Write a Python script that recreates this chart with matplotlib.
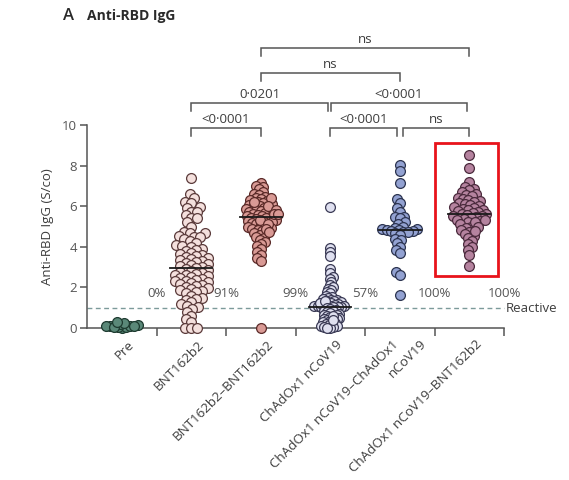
import numpy as np
import matplotlib
matplotlib.use("Agg")
import matplotlib.pyplot as plt
from matplotlib.patches import Rectangle

plt.rcParams["font.family"] = ["Open Sans", "DejaVu Sans"]

# ---- data -------------------------------------------------------------
groups = ["Pre", "BNT162b2", "BNT162b2–BNT162b2", "ChAdOx1 nCoV19",
          "ChAdOx1 nCoV19–ChAdOx1\nnCoV19", "ChAdOx1 nCoV19–BNT162b2"]

pre = [0.02, 0.05, 0.08, 0.10, 0.12, 0.15, 0.04, 0.20, 0.25, 0.10, 0.07, 0.30]

bnt = [7.4, 6.6, 6.4, 6.2, 6.15, 5.95, 5.9, 5.7, 5.7, 5.55, 5.4, 5.4, 5.2, 5.0,
       4.75, 4.7, 4.7, 4.55, 4.5, 4.5, 4.4, 4.3, 4.2, 4.1, 4.05, 4.0, 3.9, 3.85,
       3.8, 3.7, 3.65, 3.6, 3.55, 3.5, 3.45, 3.4, 3.35, 3.3, 3.25, 3.2, 3.15,
       3.1, 3.05, 3.0, 2.95, 2.9, 2.85, 2.8, 2.75, 2.7, 2.65, 2.6, 2.6, 2.55,
       2.5, 2.45, 2.4, 2.35, 2.3, 2.3, 2.25, 2.2, 2.15, 2.1, 2.05, 2.0, 1.95,
       1.9, 1.85, 1.8, 1.75, 1.7, 1.6, 1.5, 1.45, 1.4, 1.3, 1.2, 1.1, 1.05,
       0.95, 0.8, 0.6, 0.45, 0.3, 0.0, 0.0, 0.02]

bnt_bnt = [7.13, 7.0, 6.95, 6.85, 6.7, 6.6, 6.55, 6.45, 6.4, 6.35, 6.3, 6.25,
           6.2, 6.15, 6.1, 6.05, 6.0, 5.95, 5.9, 5.85, 5.8, 5.75, 5.7, 5.7,
           5.65, 5.6, 5.55, 5.5, 5.5, 5.45, 5.4, 5.4, 5.35, 5.3, 5.25, 5.2,
           5.2, 5.15, 5.1, 5.05, 5.0, 4.95, 4.9, 4.85, 4.8, 4.7, 4.65, 4.6,
           4.5, 4.45, 4.35, 4.25, 4.15, 4.05, 3.9, 3.75, 3.6, 3.45, 3.3, 0.0,
           6.4, 6.2, 6.0, 5.8, 5.6, 5.6, 5.3, 5.1, 4.9, 4.75]

chad = [5.95, 3.95, 3.75, 3.55, 2.9, 2.7, 2.5, 2.4, 2.25, 2.1, 2.0, 1.9, 1.85,
        1.75, 1.7, 1.6, 1.55, 1.5, 1.45, 1.4, 1.37, 1.33, 1.3, 1.27, 1.24, 1.2,
        1.17, 1.15, 1.13, 1.1, 1.09, 1.07, 1.06, 1.05, 1.04, 1.03, 1.02, 1.01,
        1.25, 1.35,
        0.97, 0.93, 0.9, 0.86, 0.82, 0.78, 0.75, 0.7, 0.66, 0.62, 0.58, 0.55,
        0.5, 0.46, 0.42, 0.38, 0.35, 0.3, 0.26, 0.22, 0.18, 0.15, 0.12, 0.08,
        0.05, 0.03, 0.0, 0.0, 0.6, 0.4]

chad_chad = [8.05, 7.75, 7.15, 6.35, 6.15, 5.9, 5.7, 5.45, 5.45, 5.4, 5.2,
             5.1, 5.0, 4.95, 4.9, 4.9, 4.85, 4.85, 4.8, 4.8, 4.75, 4.75, 4.7,
             4.6, 4.4, 4.35, 4.2, 4.0, 3.85, 3.7, 2.75, 2.6, 1.65]

chad_bnt = [8.5, 7.9, 7.2, 6.95, 6.85, 6.8, 6.7, 6.6, 6.55, 6.5, 6.4, 6.35,
            6.3, 6.25, 6.2, 6.15, 6.1, 6.05, 6.0, 5.95, 5.9, 5.85, 5.8, 5.8,
            5.75, 5.7, 5.65, 5.6, 5.6, 5.55, 5.5, 5.5, 5.45, 5.4, 5.35, 5.3,
            5.25, 5.2, 5.1, 5.0, 4.95, 4.85, 4.75, 4.65, 4.55, 4.45, 4.3, 4.15,
            4.0, 3.85, 3.6, 3.05, 5.3, 5.2, 5.0, 4.8]

series = [pre, bnt, bnt_bnt, chad, chad_chad, chad_bnt]
reactive_pct = ["0%", "91%", "99%", "57%", "100%", "100%"]

face_colors = ["#5a8878", "#f4e0dd", "#d99a95", "#dfe0f0", "#93a2d2", "#b5839f"]
edge_colors = ["#1d3a2f", "#5a3a3a", "#5a2a28", "#3a3a55", "#2c3450", "#4a2a3c"]

# comparisons: (group a, group b, bracket height, label)
comparisons = [(1, 2, 9.85, "<0·0001"), (3, 3.96, 9.85, "<0·0001"),
               (4.04, 5, 9.85, "ns"), (1, 2.97, 11.08, "0·0201"),
               (3.01, 4.97, 11.08, "<0·0001"), (2, 4, 12.56, "ns"),
               (2, 5, 13.79, "ns")]

reactive_cutoff = 1.0

# ---- figure -----------------------------------------------------------
W, H = 569, 480
fig = plt.figure(figsize=(W / 100, H / 100), dpi=100)
ax = fig.add_axes([87 / W, 1 - 328 / H, 417 / W, 203 / H])
ax.set_xlim(-0.5, 5.5)
ax.set_ylim(0, 10)

pos = ax.get_position()
px_per_x = pos.width * W / 6.0
px_per_y = pos.height * H / 10.0


def swarm_once(y, dmin):
    xs = np.zeros(len(y))
    placed = []
    for i in np.argsort(y):
        yi = y[i]
        spans = []
        for xj, yj in placed:
            dy = abs(yi - yj)
            if dy < dmin:
                h = np.sqrt(dmin ** 2 - dy ** 2)
                spans.append((xj - h, xj + h))
        cands = [0.0] + [e for s in spans for e in s]
        cands.sort(key=lambda c: (round(abs(c), 6), c))
        for c in cands:
            if all(not (a + 1e-6 < c < b - 1e-6) for a, b in spans):
                xs[i] = c
                break
        placed.append((xs[i], yi))
    return xs


def swarm_offsets(values, dmin=7.0, half_width=18.0):
    """Beeswarm in pixel space; points may overlap so the swarm stays
    within half_width pixels of the category centre."""
    y = np.asarray(values, dtype=float) * px_per_y
    while True:
        xs = swarm_once(y, dmin)
        if np.abs(xs).max() <= half_width or dmin <= 2.0:
            break
        dmin -= 0.25
    return xs / px_per_x


grey = "#555555"
text_col = "#3d3d3d"

# reactive threshold
ax.plot([-0.5, 5.5], [reactive_cutoff, reactive_cutoff], ls=(0, (3.5, 2.5)),
        color="#7c9a9a", lw=1.0, zorder=1, clip_on=False)
ax.text(5.53, reactive_cutoff - 0.05, "Reactive", fontsize=9.5, color=text_col,
        va="center", ha="left")

for i, vals in enumerate(series):
    offs = swarm_offsets(vals)
    ax.scatter(i + offs, vals, s=50, facecolor=face_colors[i],
               edgecolor=edge_colors[i], linewidth=0.9, zorder=3, clip_on=False)
    if i > 0:
        med = np.median(vals)
        ax.plot([i - 0.3, i + 0.3], [med, med], color="#1a1a1a", lw=1.3,
                zorder=4)
    ax.text(i + 0.5, 1.7, reactive_pct[i], fontsize=9.5, color=grey,
            ha="center", va="center")

# significance brackets
drop = 0.38
for a, b, y, lab in comparisons:
    ax.plot([a, a, b, b], [y - drop, y, y, y - drop], color=grey, lw=1.1,
            clip_on=False, solid_joinstyle="miter")
    ax.text((a + b) / 2, y + 0.12, lab, fontsize=9.5, color=text_col,
            ha="center", va="bottom")

# highlight box
ax.add_patch(Rectangle((4.507, 2.56), 0.907, 6.55, fill=False,
                       edgecolor="#e8131b", lw=2.0, zorder=5, clip_on=False))

# axes styling
for side in ["top", "right"]:
    ax.spines[side].set_visible(False)
for side in ["left", "bottom"]:
    ax.spines[side].set_color(grey)
    ax.spines[side].set_linewidth(1.1)

ax.set_yticks([0, 2, 4, 6, 8, 10])
ax.tick_params(axis="y", length=5, width=1.1, color=grey, labelsize=9.5,
               labelcolor=grey, pad=2)
ax.set_xticks([0.5, 1.5, 2.5, 3.5, 4.5, 5.5])
ax.set_xticklabels([])
ax.tick_params(axis="x", length=6, width=1.1, color=grey)
ax.set_ylabel("Anti-RBD IgG (S/co)", fontsize=9.5, color=text_col, labelpad=6)

# rotated category labels
label_lines = []
for i, g in enumerate(groups):
    if "\n" in g:
        first, second = g.split("\n")
        label_lines.append((i, first, -8, -10))
        label_lines.append((i, second, 20, -9))
    else:
        label_lines.append((i, g, 6, -10))
for i, txt, dx, dy in label_lines:
    ax.annotate(txt, xy=(i, 0), xycoords=("data", "axes fraction"),
                xytext=(dx, dy), textcoords="offset pixels", rotation=45,
                rotation_mode="anchor", ha="right", va="top", fontsize=9.6,
                color=text_col, annotation_clip=False)

# panel title
fig.text(63 / W, 1 - 16 / H, "A", fontsize=12, fontweight="semibold",
         color="#2a2a2a", va="center")
fig.text(87 / W, 1 - 16 / H, "Anti-RBD IgG", fontsize=10, fontweight="bold",
         color="#2a2a2a", va="center")

fig.savefig("out.png", dpi=100)
